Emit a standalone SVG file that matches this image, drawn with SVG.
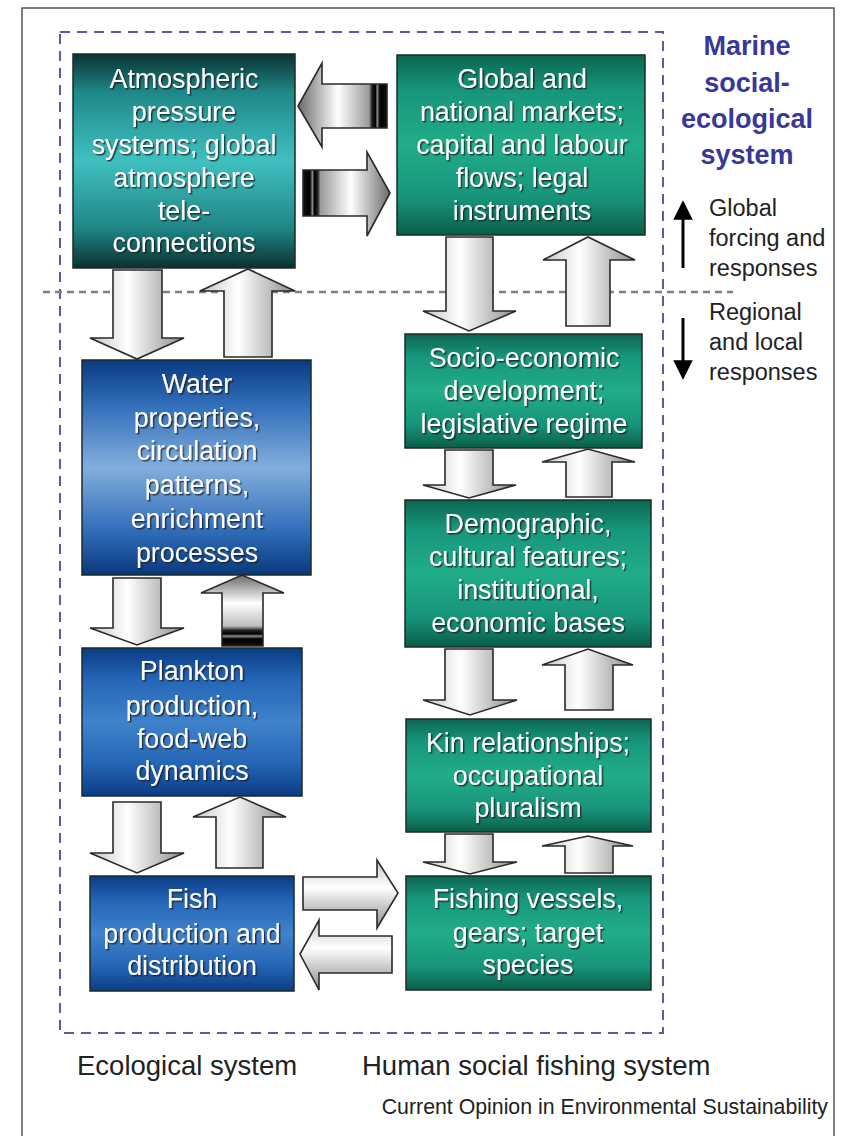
<svg xmlns="http://www.w3.org/2000/svg" width="843" height="1136" viewBox="0 0 843 1136">
<style>
.frame{fill:none;stroke:#555;stroke-width:1.5}
.sys{fill:none;stroke:#5a5aaa;stroke-width:2;stroke-dasharray:10 7}
.div{fill:none;stroke:#808080;stroke-width:2.5;stroke-dasharray:7 5}
.box{stroke:#1c2a2a;stroke-width:1.5}
.bt{font-family:"Liberation Sans",Arial,sans-serif;font-size:26.8px;fill:#fbfbfb;text-anchor:middle}
.arr{stroke:#2a2a2a;stroke-width:1.6;stroke-linejoin:miter}
.lab{font-family:"Liberation Sans",Arial,sans-serif;fill:#222}
.mar{font-family:"Liberation Sans",Arial,sans-serif;font-weight:bold;font-size:27px;fill:#38389a;text-anchor:middle}
</style>
<defs>
<linearGradient id="gTeal" x1="0" y1="0" x2="0" y2="1">
<stop offset="0" stop-color="#0b3232"/><stop offset="0.18" stop-color="#1f8888"/><stop offset="0.5" stop-color="#40c0c0"/><stop offset="0.82" stop-color="#1f8484"/><stop offset="1" stop-color="#0b3030"/>
</linearGradient>
<linearGradient id="gGreen" x1="0" y1="0" x2="0" y2="1">
<stop offset="0" stop-color="#0c6650"/><stop offset="0.2" stop-color="#17967c"/><stop offset="0.5" stop-color="#21ad88"/><stop offset="0.8" stop-color="#17937a"/><stop offset="1" stop-color="#0a5e46"/>
</linearGradient>
<linearGradient id="gBlueL" x1="0" y1="0" x2="0" y2="1">
<stop offset="0" stop-color="#093a80"/><stop offset="0.2" stop-color="#2f6cb8"/><stop offset="0.5" stop-color="#82aede"/><stop offset="0.8" stop-color="#2f6cb8"/><stop offset="1" stop-color="#09387c"/>
</linearGradient>
<linearGradient id="gBlueM" x1="0" y1="0" x2="0" y2="1">
<stop offset="0" stop-color="#0a3c86"/><stop offset="0.22" stop-color="#2566b6"/><stop offset="0.5" stop-color="#4182cc"/><stop offset="0.78" stop-color="#2566b6"/><stop offset="1" stop-color="#0a3c84"/>
</linearGradient>
<linearGradient id="gArrV" x1="0" y1="0" x2="1" y2="0">
<stop offset="0" stop-color="#c4c4c4"/><stop offset="0.4" stop-color="#ffffff"/><stop offset="1" stop-color="#8c8c8c"/>
</linearGradient>
<linearGradient id="gArrH" x1="0" y1="0" x2="0" y2="1">
<stop offset="0" stop-color="#c4c4c4"/><stop offset="0.4" stop-color="#ffffff"/><stop offset="1" stop-color="#8c8c8c"/>
</linearGradient>
<linearGradient id="gStripeL" x1="0" y1="0" x2="1" y2="0">
<stop offset="0" stop-color="#6a6a6a"/><stop offset="0.45" stop-color="#ffffff"/><stop offset="0.8" stop-color="#9a9a9a"/><stop offset="0.83" stop-color="#222"/><stop offset="0.87" stop-color="#000"/><stop offset="0.89" stop-color="#8a8a8a"/><stop offset="0.92" stop-color="#000"/><stop offset="1" stop-color="#111"/>
</linearGradient>
<linearGradient id="gStripeR" x1="1" y1="0" x2="0" y2="0">
<stop offset="0" stop-color="#6a6a6a"/><stop offset="0.45" stop-color="#ffffff"/><stop offset="0.8" stop-color="#9a9a9a"/><stop offset="0.83" stop-color="#222"/><stop offset="0.87" stop-color="#000"/><stop offset="0.89" stop-color="#8a8a8a"/><stop offset="0.92" stop-color="#000"/><stop offset="1" stop-color="#111"/>
</linearGradient>
<linearGradient id="gStripeU" x1="0" y1="0" x2="0" y2="1">
<stop offset="0" stop-color="#6a6a6a"/><stop offset="0.4" stop-color="#ffffff"/><stop offset="0.72" stop-color="#bcbcbc"/><stop offset="0.78" stop-color="#222"/><stop offset="0.83" stop-color="#000"/><stop offset="0.86" stop-color="#8a8a8a"/><stop offset="0.9" stop-color="#000"/><stop offset="1" stop-color="#111"/>
</linearGradient>
<filter id="sh" x="-10%" y="-10%" width="120%" height="130%">
<feDropShadow dx="1.5" dy="1.5" stdDeviation="0.7" flood-color="#1a1a1a" flood-opacity="0.75"/>
</filter>
<marker id="blk" viewBox="0 0 10 10" refX="5" refY="5" markerWidth="6.5" markerHeight="6.5" orient="auto">
<path d="M0,0 L10,5 L0,10 Z" fill="#000"/>
</marker>
</defs>

<rect class="frame" x="22" y="8" width="812" height="1140"/>
<rect class="sys" x="60" y="32" width="603" height="1001"/>
<line class="div" x1="43" y1="292" x2="733" y2="292"/>

<g id="connectors">
<path class="arr" fill="url(#gStripeL)" d="M298,106 L322,63 L322,84 L387,84 L387,128 L322,128 L322,147 Z"/>
<path class="arr" fill="url(#gStripeR)" d="M390,193 L367,152 L367,170 L303,170 L303,216 L367,216 L367,236 Z"/>
<path class="arr" fill="url(#gArrV)" d="M113,270 L162,270 L162,338 L184,338 L137,359 L90,338 L113,338 Z"/>
<path class="arr" fill="url(#gArrV)" d="M224,357 L272,357 L272,291 L295,291 L248,269 L200,291 L224,291 Z"/>
<path class="arr" fill="url(#gArrV)" d="M446,237 L493,237 L493,311 L516,311 L469,331 L423,311 L446,311 Z"/>
<path class="arr" fill="url(#gArrV)" d="M566,326 L610,326 L610,260 L635,260 L588,237 L543,260 L566,260 Z"/>
<path class="arr" fill="url(#gArrV)" d="M445,450 L493,450 L493,485 L516,485 L469,498 L423,485 L445,485 Z"/>
<path class="arr" fill="url(#gArrV)" d="M566,497 L612,497 L612,462 L635,462 L588,449 L542,462 L566,462 Z"/>
<path class="arr" fill="url(#gArrV)" d="M445,649 L493,649 L493,700 L517,700 L470,715 L423,700 L445,700 Z"/>
<path class="arr" fill="url(#gArrV)" d="M565,710 L613,710 L613,665 L633,665 L588,649 L542,665 L565,665 Z"/>
<path class="arr" fill="url(#gArrV)" d="M445,834 L493,834 L493,862 L517,862 L470,874 L423,862 L445,862 Z"/>
<path class="arr" fill="url(#gArrV)" d="M565,873 L613,873 L613,846 L633,846 L588,836 L542,846 L565,846 Z"/>
<path class="arr" fill="url(#gArrV)" d="M113,578 L161,578 L161,628 L184,628 L137,645 L90,628 L113,628 Z"/>
<path class="arr" fill="url(#gStripeU)" d="M222,646 L263,646 L263,593 L284,593 L242,575 L201,593 L222,593 Z"/>
<path class="arr" fill="url(#gArrV)" d="M113,802 L161,802 L161,853 L184,853 L137,873 L90,853 L113,853 Z"/>
<path class="arr" fill="url(#gArrV)" d="M216,868 L263,868 L263,817 L286,817 L240,797 L193,817 L216,817 Z"/>
<path class="arr" fill="url(#gArrH)" d="M303,877 L377,877 L377,860 L398,893 L377,928 L377,910 L303,910 Z"/>
<path class="arr" fill="url(#gArrH)" d="M392,936 L319,936 L319,920 L300,954 L319,990 L319,973 L392,973 Z"/>
<line x1="683" y1="268" x2="683" y2="210" stroke="#000" stroke-width="3" marker-end="url(#blk)"/>
<line x1="683" y1="318" x2="683" y2="370" stroke="#000" stroke-width="3" marker-end="url(#blk)"/>
</g>

<g id="n-atmospheric">
<rect class="box" x="73" y="54" width="222" height="214" fill="url(#gTeal)"/>
<g class="bt" filter="url(#sh)">
<text x="184" y="88">Atmospheric</text>
<text x="184" y="121">pressure</text>
<text x="184" y="154">systems; global</text>
<text x="184" y="187">atmosphere</text>
<text x="184" y="220">tele-</text>
<text x="184" y="252">connections</text>
</g>
</g>

<g id="n-global">
<rect class="box" x="397" y="55" width="248" height="180" fill="url(#gGreen)"/>
<g class="bt" filter="url(#sh)">
<text x="522" y="88">Global and</text>
<text x="522" y="121">national markets;</text>
<text x="522" y="154">capital and labour</text>
<text x="522" y="187">flows; legal</text>
<text x="522" y="220">instruments</text>
</g>
</g>

<g id="n-water">
<rect class="box" x="82" y="360" width="229" height="215" fill="url(#gBlueL)"/>
<g class="bt" filter="url(#sh)">
<text x="197" y="393">Water</text>
<text x="197" y="427">properties,</text>
<text x="197" y="460">circulation</text>
<text x="197" y="494">patterns,</text>
<text x="197" y="528">enrichment</text>
<text x="197" y="562">processes</text>
</g>
</g>

<g id="n-plankton">
<rect class="box" x="82" y="648" width="220" height="148" fill="url(#gBlueM)"/>
<g class="bt" filter="url(#sh)">
<text x="192" y="680">Plankton</text>
<text x="192" y="715">production,</text>
<text x="192" y="748">food-web</text>
<text x="192" y="780">dynamics</text>
</g>
</g>

<g id="n-fish">
<rect class="box" x="90" y="876" width="204" height="115" fill="url(#gBlueM)"/>
<g class="bt" filter="url(#sh)">
<text x="192" y="908">Fish</text>
<text x="192" y="943">production and</text>
<text x="192" y="975">distribution</text>
</g>
</g>

<g id="n-socio">
<rect class="box" x="405" y="334" width="237" height="114" fill="url(#gGreen)"/>
<g class="bt" filter="url(#sh)">
<text x="524" y="367">Socio-economic</text>
<text x="524" y="400">development;</text>
<text x="524" y="433">legislative regime</text>
</g>
</g>

<g id="n-demographic">
<rect class="box" x="405" y="500" width="246" height="147" fill="url(#gGreen)"/>
<g class="bt" filter="url(#sh)">
<text x="528" y="533">Demographic,</text>
<text x="528" y="566">cultural features;</text>
<text x="528" y="599">institutional,</text>
<text x="528" y="632">economic bases</text>
</g>
</g>

<g id="n-kin">
<rect class="box" x="406" y="719" width="245" height="113" fill="url(#gGreen)"/>
<g class="bt" filter="url(#sh)">
<text x="528" y="752">Kin relationships;</text>
<text x="528" y="785">occupational</text>
<text x="528" y="817">pluralism</text>
</g>
</g>

<g id="n-fishing">
<rect class="box" x="406" y="876" width="245" height="114" fill="url(#gGreen)"/>
<g class="bt" filter="url(#sh)">
<text x="528" y="908">Fishing vessels,</text>
<text x="528" y="942">gears; target</text>
<text x="528" y="974">species</text>
</g>
</g>

<g id="labels">
<text class="mar" x="747" y="55">Marine</text>
<text class="mar" x="747" y="92">social-</text>
<text class="mar" x="747" y="128">ecological</text>
<text class="mar" x="747" y="164">system</text>
<text class="lab" x="709" y="216" font-size="23.5">Global</text>
<text class="lab" x="709" y="246" font-size="23.5">forcing and</text>
<text class="lab" x="709" y="276" font-size="23.5">responses</text>
<text class="lab" x="709" y="320" font-size="23.5">Regional</text>
<text class="lab" x="709" y="350" font-size="23.5">and local</text>
<text class="lab" x="709" y="380" font-size="23.5">responses</text>
<text class="lab" x="77" y="1075" font-size="27.5">Ecological system</text>
<text class="lab" x="362" y="1075" font-size="27.5">Human social fishing system</text>
<text class="lab" x="828" y="1114" font-size="21.3" text-anchor="end">Current Opinion in Environmental Sustainability</text>
</g>
</svg>
